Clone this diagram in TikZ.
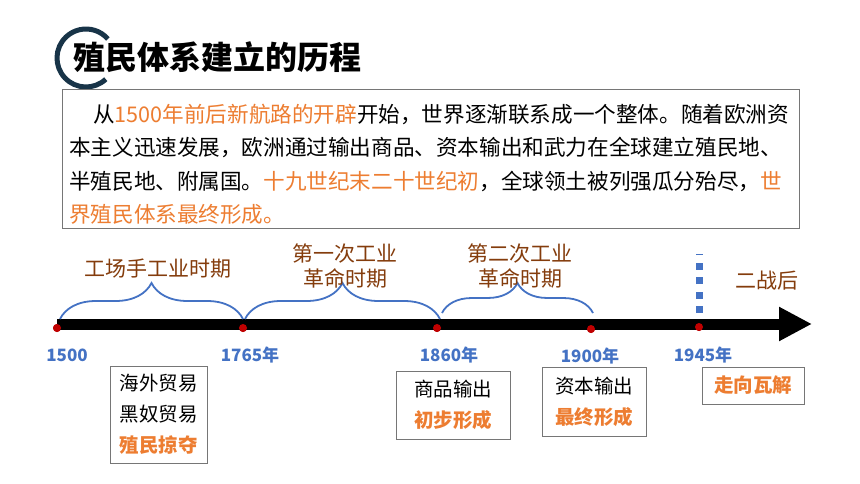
\documentclass[tikz,border=0pt]{standalone}
\usepackage{fontspec}
\setmainfont{Noto Sans CJK SC}
\usepackage{xcolor}
\usepackage{tikz}
\usetikzlibrary{
  arrows.meta,
  calc,
  positioning,
  decorations.pathreplacing
}
\definecolor{hlorange}{RGB}{237,125,49}
\definecolor{periodbrown}{RGB}{132,60,12}
\definecolor{yearblue}{RGB}{68,114,196}
\definecolor{braceblue}{RGB}{68,114,196}
\definecolor{dotred}{RGB}{192,0,0}
\definecolor{ringnavy}{RGB}{24,52,72}
\definecolor{framegray}{RGB}{118,118,118}
\newcommand{\hl}[1]{\textcolor{hlorange}{#1}}

\begin{document}
\begin{tikzpicture}[
  x=1pt, y=-1pt,
  frame/.style={draw=framegray, line width=1pt, inner sep=0pt,
                minimum width=737pt, minimum height=139pt},
  para/.style={anchor=north west, align=left, inner sep=0pt,
               font=\fontsize{21.6}{33.3}\selectfont},
  period/.style={text=periodbrown, align=center, inner sep=0pt,
                 font=\fontsize{21}{25}\selectfont},
  year/.style={text=yearblue, inner sep=0pt, font=\bfseries\fontsize{17}{20}\selectfont},
  dot/.style={circle, fill=dotred, inner sep=0pt, minimum size=8pt},
  event/.style={draw=framegray, line width=1pt, align=center, inner sep=0pt,
                font=\fontsize{19.5}{31}\selectfont},
  brc/.style={draw=braceblue, line width=1.8pt, decorate,
              decoration={brace, amplitude=#1}},
  brc/.default=36pt
]
  \fill[white] (0,0) rectangle (860,484);

  % Title
  \draw[ringnavy, line width=5pt] (86,58) ++(47:29) arc[start angle=47, end angle=319, radius=29];
  \node[anchor=west, inner sep=0pt, font=\bfseries\fontsize{32}{36}\selectfont] (title) at (73,57)
    {殖民体系建立的历程};

  % Text box
  \node[frame, anchor=north west] (box) at (62,89) {};
  \node[para] (para) at ($(box.north west)+(7,15)$)
    {\hspace*{24pt}从\hl{1500年前后新航路的开辟}开始，世界逐渐联系成一个整体。随着欧洲资\\
     本主义迅速发展，欧洲通过输出商品、资本输出和武力在全球建立殖民地、\\
     半殖民地、附属国。\hl{十九世纪末二十世纪初}，全球领土被列强瓜分殆尽，\hl{世}\\
     \hl{界殖民体系最终形成。}};

  % Timeline
  \coordinate (barstart) at (57,324);
  \coordinate (barend) at (812,324);
  \node[dot] (d1500) at (57,328) {};
  \node[dot] (d1765) at (243,328) {};
  \node[dot] (d1860) at (437,328) {};
  \node[dot] (d1900) at (591,329) {};
  \node[dot] (d1945) at (699,327) {};

  % Dotted marker
  \coordinate (wwtop) at (699,254);
  \draw[braceblue, line width=7pt, dash pattern=on 7pt off 7.5pt]
    ($(d1945)+(0,-14)$) -- (wwtop);

  \draw[line width=11pt, -{Triangle[length=33pt, width=32pt]}] (barstart) -- (barend);
  \foreach \d in {d1500,d1765,d1860,d1900,d1945}
    \node[dot] at (\d) {};

  % Braces
  \draw[brc] ($(d1500)+(3,-9)$) -- ($(d1765)+(0,-9)$);
  \draw[brc] ($(d1765)+(2,-9)$) -- ($(d1860)+(3,-9)$);
  \draw[brc=30pt] ($(d1860)+(5,-15)$) -- ($(d1900)+(2,-16)$);

  % Periods
  \node[period] (p1) at (158,269) {工场手工业时期};
  \node[period] (p2) at (345,266) {第一次工业\\革命时期};
  \node[period] (p3) at (520,266) {第二次工业\\革命时期};
  \node[period] (p4) at (767,281) {二战后};

  % Years
  \node[year] (y1500) at (67,355) {1500};
  \node[year] (y1765) at (250,355) {1765年};
  \node[year] (y1860) at (449,355) {1860年};
  \node[year] (y1900) at (590,356) {1900年};
  \node[year] (y1945) at (703,355) {1945年};

  % Events
  \node[event, minimum width=97pt, minimum height=97pt] (e1) at (158.5,414.5)
    {海外贸易\\黑奴贸易\\\textbf{\color{hlorange}殖民掠夺}};
  \node[event, minimum width=114pt, minimum height=68pt] (e2) at (453,405)
    {商品输出\\\textbf{\color{hlorange}初步形成}};
  \node[event, minimum width=104pt, minimum height=69pt] (e3) at (594,401.5)
    {资本输出\\\textbf{\color{hlorange}最终形成}};
  \node[event, minimum width=102pt, minimum height=37pt] (e4) at (753,385.5)
    {\textbf{\color{hlorange}走向瓦解}};

\end{tikzpicture}
\end{document}
